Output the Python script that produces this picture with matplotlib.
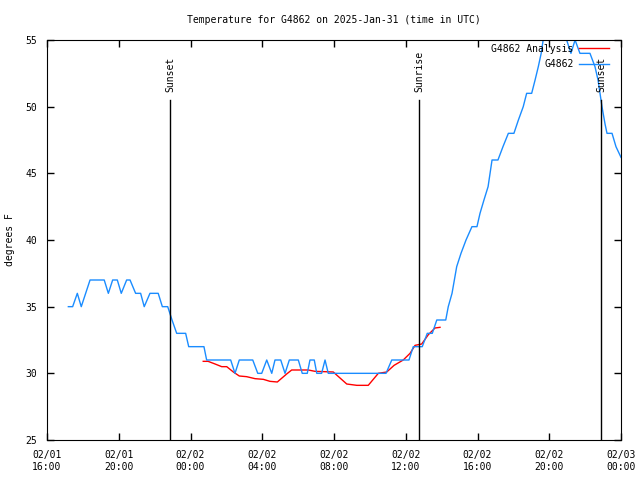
import matplotlib
matplotlib.use('Agg')
import matplotlib.pyplot as plt

STATION = 'G4862'
TITLE = 'Temperature for G4862 on 2025-Jan-31 (time in UTC)'

# hours since 02/01 16:00 UTC
obs_hours = [1.19, 1.43, 1.69, 1.91, 2.40, 3.19, 3.42, 3.66, 3.92, 4.14, 4.44, 4.63,
             4.94, 5.22, 5.42, 5.74, 6.20, 6.43, 6.73, 6.97, 7.23, 7.73, 7.90, 8.75,
             8.90, 10.24, 10.48, 10.72, 11.47, 11.75, 11.97, 12.25, 12.53, 12.71, 13.03,
             13.27, 13.51, 14.01, 14.23, 14.51, 14.66, 14.90, 15.04, 15.31, 15.50, 15.68,
             18.90, 19.22, 20.18, 20.42, 20.92, 21.20, 21.48, 21.73, 22.23, 22.37, 22.58,
             22.84, 23.08, 23.36, 23.69, 23.97, 24.14, 24.36, 24.59, 24.81, 25.14, 25.42,
             25.72, 26.03, 26.28, 26.55, 26.74, 27.02, 27.21, 27.39, 27.55, 27.66, 27.93,
             28.32, 28.71, 28.97, 29.21, 29.44, 29.71, 30.27, 30.55, 30.72, 30.83, 30.94,
             31.11, 31.22, 31.50, 31.72, 32.00]
obs_temp = [35, 35, 36, 35, 37, 37, 36, 37, 37, 36, 37, 37,
            36, 36, 35, 36, 36, 35, 35, 34, 33, 33, 32, 32,
            31, 31, 30, 31, 31, 30, 30, 31, 30, 31, 31,
            30, 31, 31, 30, 30, 31, 31, 30, 30, 31, 30,
            30, 31, 31, 32, 32, 33, 33, 34, 34, 35, 36,
            38, 39, 40, 41, 41, 42, 43, 44, 46, 46, 47,
            48, 48, 49, 50, 51, 51, 52, 53, 54, 55, 56,
            57, 56, 55, 54, 55, 54, 54, 53, 52, 51, 50,
            48.7, 48, 48, 47, 46.2]

ana_hours = [8.71, 8.98, 9.37, 9.74, 10.02, 10.39, 10.72, 11.13, 11.60, 12.06, 12.43,
             12.84, 13.36, 13.64, 14.57, 14.94, 15.96, 16.71, 17.27, 17.91, 18.47,
             18.94, 19.35, 19.86, 20.24, 20.52, 20.89, 21.26, 21.63, 21.91]
ana_temp = [30.9, 30.9, 30.7, 30.5, 30.5, 30.1, 29.8, 29.75, 29.6, 29.55, 29.4,
            29.35, 29.95, 30.25, 30.25, 30.15, 30.1, 29.2, 29.1, 29.1, 30.0,
            30.1, 30.6, 31.0, 31.5, 32.1, 32.2, 32.9, 33.4, 33.45]

sun_hours = [6.86, 20.74, 30.88]
sun_labels = ['Sunset', 'Sunrise', 'Sunset']

tick_hours = [0, 4, 8, 12, 16, 20, 24, 28, 32]
tick_labels = ['02/01\n16:00', '02/01\n20:00', '02/02\n00:00', '02/02\n04:00',
               '02/02\n08:00', '02/02\n12:00', '02/02\n16:00', '02/02\n20:00',
               '02/03\n00:00']

BLUE = '#1a8cff'
RED = '#ff0000'


def main():
    plt.rcParams['font.family'] = 'DejaVu Sans Mono'
    plt.rcParams['font.size'] = 7

    fig = plt.figure(figsize=(6.4, 4.8), dpi=100)
    ax = fig.add_axes([47 / 640, 40 / 480, 574 / 640, 400 / 480])

    ax.plot(ana_hours, ana_temp, color=RED, lw=1, label=STATION + ' Analysis')
    ax.plot(obs_hours, obs_temp, color=BLUE, lw=1, label=STATION)

    for h, name in zip(sun_hours, sun_labels):
        ax.plot([h, h], [25, 50.5], color='black', lw=1)
        ax.text(h, 51.1, name, rotation=90, ha='center', va='bottom')

    ax.set_xlim(0, 32)
    ax.set_ylim(25, 55)
    ax.set_xticks(tick_hours)
    ax.set_xticklabels(tick_labels, linespacing=1.3)
    ax.set_yticks(range(25, 56, 5))
    ax.tick_params(direction='in', top=True, right=True, length=5, width=1)
    ax.tick_params(axis='x', pad=7)
    ax.tick_params(axis='y', pad=7)
    ax.set_ylabel('degrees F')
    ax.yaxis.set_label_coords(-32 / 574, 0.5)
    ax.set_title(TITLE, fontsize=7, pad=12)

    ax.legend(loc='upper right', bbox_to_anchor=(0.985, 1.0), frameon=False,
              markerfirst=False, handlelength=3.0, borderaxespad=0,
              labelspacing=0.55, handletextpad=0.6)

    plt.savefig('out.png', dpi=100)


if __name__ == '__main__':
    main()
